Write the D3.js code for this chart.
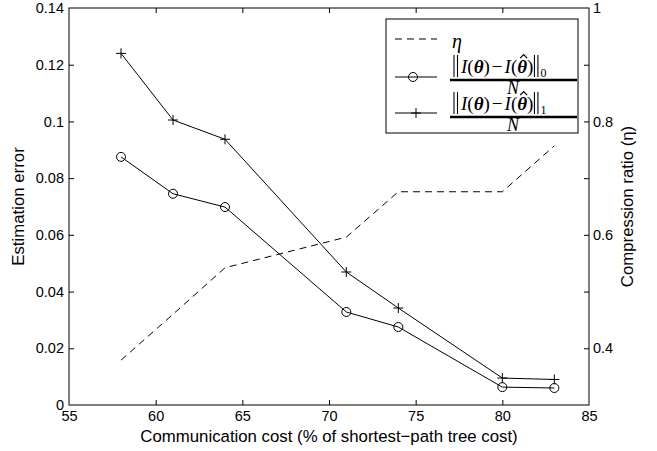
<!DOCTYPE html>
<html>
<head>
<meta charset="utf-8">
<script src="https://cdn.jsdelivr.net/npm/d3@7"></script>
<style>
  body { margin: 0; background: #fff; }
  text { font-family: "Liberation Sans", Arial, sans-serif; }
  .math { font-family: "Liberation Serif", "DejaVu Serif", serif; }
</style>
</head>
<body>
<div id="chart"></div>
<script>
// data
var cost = [58, 61, 64, 71, 74, 80, 83];
var errL0 = [0.0875, 0.0745, 0.0698, 0.0328, 0.0275, 0.0063, 0.0060];
var errL1 = [0.1240, 0.1005, 0.0937, 0.0469, 0.0342, 0.0095, 0.0090];
var eta = [0.379, 0.460, 0.542, 0.596, 0.676, 0.676, 0.757];

var xTicks = [55, 60, 65, 70, 75, 80, 85];
var yLeftTicks = [0, 0.02, 0.04, 0.06, 0.08, 0.1, 0.12, 0.14];
var yRightTicks = [0.4, 0.5, 0.6, 0.7, 0.8, 0.9, 1];
var yRightLabels = {0.4: "0.4", 0.6: "0.6", 0.8: "0.8", 1: "1"};

var W = 657, H = 451;
var margin = {top: 8, right: 68, bottom: 46, left: 69};

var svg = d3.select('#chart').append('svg')
    .attr('width', W)
    .attr('height', H);

var x = d3.scaleLinear().domain([55, 85]).range([margin.left, W - margin.right]);
var yL = d3.scaleLinear().domain([0, 0.14]).range([H - margin.bottom, margin.top]);
var yR = d3.scaleLinear().domain([0.3, 1]).range([H - margin.bottom, margin.top]);

var fmtL = function(d) { return d === 0 ? '0' : String(+d.toFixed(2)); };

// bottom axis (ticks point inward, MATLAB style)
var gx = svg.append('g')
    .attr('transform', 'translate(0,' + yL(0) + ')')
    .call(d3.axisBottom(x).tickValues(xTicks).tickSize(-5).tickPadding(4).tickFormat(d3.format('d')));
// top ticks
var gxt = svg.append('g')
    .attr('transform', 'translate(0,' + margin.top + ')')
    .call(d3.axisTop(x).tickValues(xTicks).tickSize(-5).tickFormat(''));
// left axis
var gy = svg.append('g')
    .attr('transform', 'translate(' + margin.left + ',0)')
    .call(d3.axisLeft(yL).tickValues(yLeftTicks).tickSize(-5).tickPadding(5).tickFormat(fmtL));
// right axis for eta
var gyr = svg.append('g')
    .attr('transform', 'translate(' + (W - margin.right) + ',0)')
    .call(d3.axisRight(yR).tickValues(yRightTicks).tickSize(-5).tickPadding(4)
      .tickFormat(function(d) { return yRightLabels[d] || ''; }));

[gx, gxt, gy, gyr].forEach(function(g) {
  g.select('.domain').remove();
  g.selectAll('line').attr('stroke', '#000');
  g.selectAll('text').attr('font-size', 14.5).attr('fill', '#000')
    .attr('font-family', '"Liberation Sans", Arial, sans-serif');
});
// end ticks sit on the box corners
gx.selectAll('.tick').filter(function(d) { return d === 55 || d === 85; }).select('line').remove();
gxt.selectAll('.tick').filter(function(d) { return d === 55 || d === 85; }).remove();
gy.selectAll('.tick').filter(function(d) { return d === 0 || d === 0.14; }).select('line').remove();
gyr.selectAll('.tick').filter(function(d) { return d === 1; }).select('line').remove();
gx.selectAll('text').attr('dy', '0.85em');

// axes box
svg.append('rect')
    .attr('x', margin.left).attr('y', margin.top)
    .attr('width', W - margin.left - margin.right)
    .attr('height', H - margin.top - margin.bottom)
    .attr('fill', 'none').attr('stroke', '#000').attr('stroke-width', 1);

// axis labels
svg.append('text')
    .attr('x', (margin.left + W - margin.right) / 2)
    .attr('y', 442)
    .attr('text-anchor', 'middle')
    .attr('font-size', 16.8)
    .text('Communication cost (% of shortest\u2212path tree cost)');

svg.append('text')
    .attr('transform', 'translate(24,' + ((margin.top + H - margin.bottom) / 2) + ') rotate(-90)')
    .attr('text-anchor', 'middle')
    .attr('font-size', 16.8)
    .text('Estimation error');

svg.append('text')
    .attr('transform', 'translate(633,' + ((margin.top + H - margin.bottom) / 2) + ') rotate(-90)')
    .attr('text-anchor', 'middle')
    .attr('font-size', 16.8)
    .text('Compression ratio (\u03b7)');

// lines
var lineL = d3.line().x(function(d, i) { return x(cost[i]); }).y(function(d) { return yL(d); });
var lineEta = d3.line().x(function(d, i) { return x(cost[i]); }).y(function(d) { return yR(d); });

svg.append('path')
    .attr('d', lineEta(eta))
    .attr('fill', 'none').attr('stroke', '#000').attr('stroke-width', 1)
    .attr('stroke-dasharray', '7,5');

svg.append('path')
    .attr('d', lineL(errL0))
    .attr('fill', 'none').attr('stroke', '#000').attr('stroke-width', 1);

svg.append('path')
    .attr('d', lineL(errL1))
    .attr('fill', 'none').attr('stroke', '#000').attr('stroke-width', 1);

// markers
svg.selectAll('.circ').data(errL0).enter().append('circle')
    .attr('cx', function(d, i) { return x(cost[i]); })
    .attr('cy', function(d) { return yL(d); })
    .attr('r', 4.5)
    .attr('fill', 'none').attr('stroke', '#000');

svg.selectAll('.plus').data(errL1).enter().append('path')
    .attr('transform', function(d, i) { return 'translate(' + x(cost[i]) + ',' + yL(d) + ')'; })
    .attr('d', 'M-5,0H5M0,-5V5')
    .attr('fill', 'none').attr('stroke', '#000');

// legend
var lg = svg.append('g');
lg.append('rect')
    .attr('x', 386).attr('y', 19).attr('width', 192).attr('height', 114)
    .attr('fill', '#fff').attr('stroke', '#000');

// row 1: dashed eta
lg.append('line').attr('x1', 395).attr('x2', 437).attr('y1', 39).attr('y2', 39)
    .attr('stroke', '#000').attr('stroke-dasharray', '7,5');
lg.append('text').attr('class', 'math').attr('x', 452).attr('y', 48)
    .attr('font-size', 20).attr('font-style', 'italic').text('\u03b7');

function bars(x0, y0, y1) {
  [0, 3.5].forEach(function(o) {
    lg.append('line').attr('x1', x0 + o).attr('x2', x0 + o).attr('y1', y0).attr('y2', y1)
        .attr('stroke', '#000').attr('stroke-width', 1.1);
  });
}

function normFrac(yBar, sub) {
  var fs = 19, base = yBar - 7;
  var t = lg.append('text').attr('class', 'math').attr('x', 461).attr('y', base)
      .attr('font-size', fs);
  t.append('tspan').attr('font-style', 'italic').text('I');
  t.append('tspan').text('(');
  t.append('tspan').attr('font-style', 'italic').attr('font-weight', 'bold').text('\u03b8');
  t.append('tspan').text(')');
  t.append('tspan').attr('dx', 2).text('\u2212');
  t.append('tspan').attr('dx', 2).attr('font-style', 'italic').text('I');
  t.append('tspan').text('(');
  t.append('tspan').attr('font-style', 'italic').attr('font-weight', 'bold').text('\u03b8');
  t.append('tspan').text(')');
  var end = 461 + t.node().getComputedTextLength() + 4;
  // big norm bars
  bars(454, base - 18, base + 4);
  bars(end + 1, base - 18, base + 4);
  lg.append('text').attr('class', 'math').attr('x', end + 7).attr('y', base + 4)
      .attr('font-size', 12).text(sub);
  // hat over the second theta
  var box = t.node().getExtentOfChar(7);
  var cx = box.x + box.width / 2 + 1.5, hy = base - fs * 0.78;
  lg.append('path')
      .attr('d', 'M' + (cx - 3.5) + ',' + hy + 'L' + cx + ',' + (hy - 3.5) + 'L' + (cx + 3.5) + ',' + hy)
      .attr('fill', 'none').attr('stroke', '#000').attr('stroke-width', 1.2);
  // fraction bar and denominator
  lg.append('line').attr('x1', 450).attr('x2', 577).attr('y1', yBar).attr('y2', yBar)
      .attr('stroke', '#000').attr('stroke-width', 2.5);
  lg.append('text').attr('class', 'math').attr('x', 513).attr('y', yBar + 14)
      .attr('text-anchor', 'middle').attr('font-size', 18).attr('font-style', 'italic').text('N');
}

// row 2: circles
lg.append('line').attr('x1', 395).attr('x2', 437).attr('y1', 77).attr('y2', 77).attr('stroke', '#000');
lg.append('circle').attr('cx', 413).attr('cy', 77).attr('r', 4.5).attr('fill', 'none').attr('stroke', '#000');
normFrac(80, '0');

// row 3: plus
lg.append('line').attr('x1', 395).attr('x2', 437).attr('y1', 113).attr('y2', 113).attr('stroke', '#000');
lg.append('path').attr('transform', 'translate(416,113)').attr('d', 'M-5,0H5M0,-5V5').attr('stroke', '#000');
normFrac(117, '1');
</script>
</body>
</html>
